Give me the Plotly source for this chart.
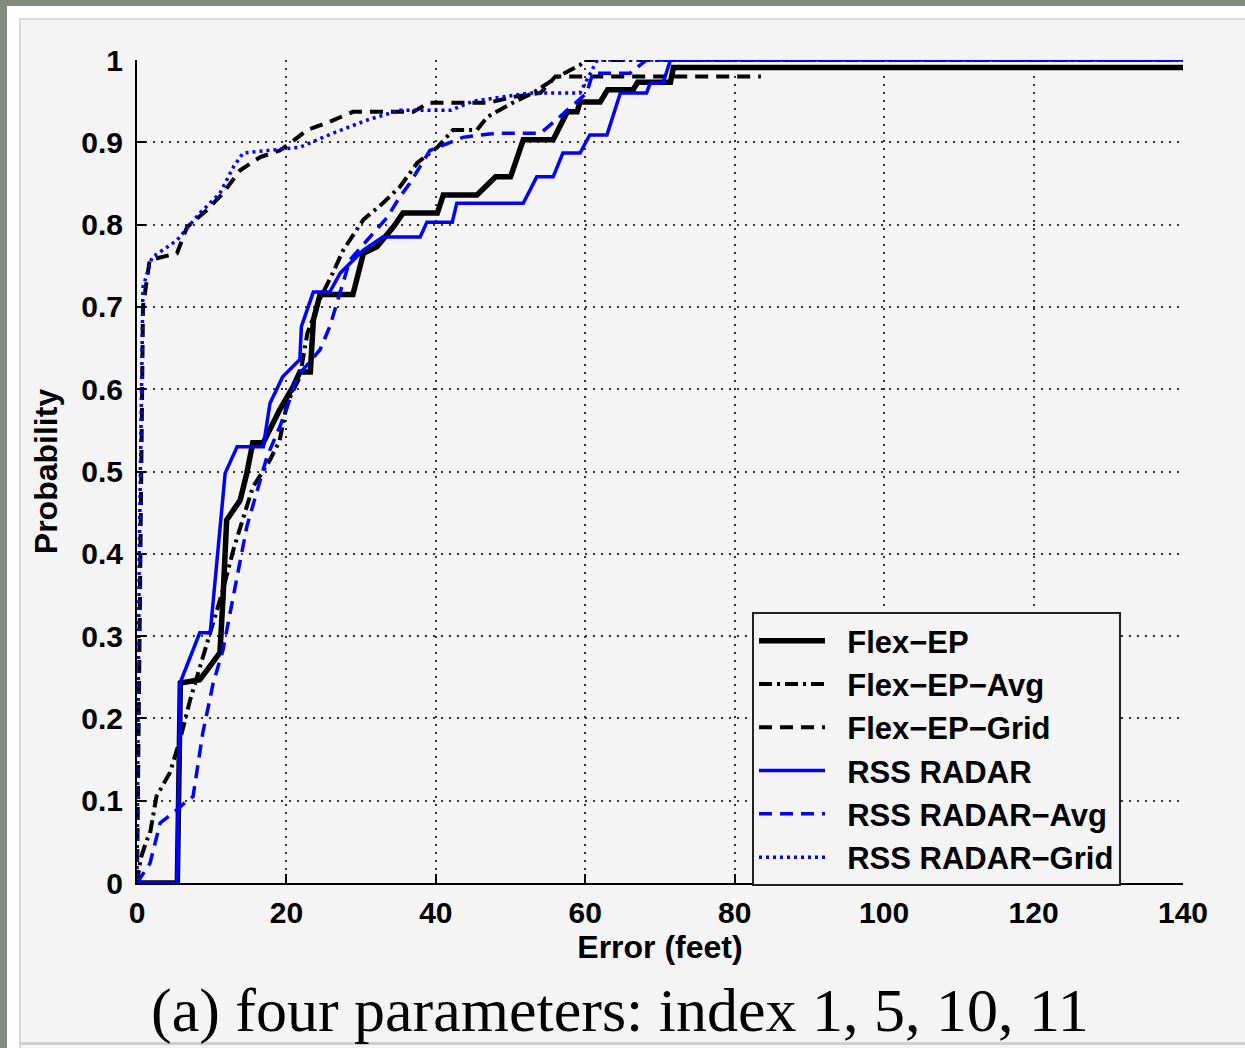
import plotly.graph_objects as go

# ---------------- data ----------------
flex_ep_x = [0, 5.4, 5.8, 8.4, 9.4, 10.7, 11.1, 11.5, 12, 13.8, 14.7, 15.5, 16.9, 19.1, 20.9, 21.8, 23.2, 23.6,
             24.5, 28.9, 30.3, 32.1, 34.3, 35.6, 40.2, 41, 45.5, 48, 50, 51.7, 55.7, 57.6, 58.9, 59.3, 62, 63,
             66.4, 67, 71.4, 71.8, 140]
flex_ep_y = [0, 0, 0.243, 0.247, 0.259, 0.277, 0.28, 0.344, 0.441, 0.465, 0.498, 0.535, 0.535, 0.575, 0.603,
             0.621, 0.621, 0.684, 0.715, 0.715, 0.765, 0.773, 0.797, 0.814, 0.814, 0.836, 0.836, 0.858, 0.858,
             0.903, 0.903, 0.937, 0.937, 0.949, 0.949, 0.964, 0.964, 0.973, 0.973, 0.991, 0.991]

flex_avg_x = [0, 0.5, 1.3, 1.74, 2.6, 4.4, 5.76, 6.7, 7.1, 9.0, 11.5, 12.9, 14.2, 15.5, 17.8, 19.1, 20.1, 21.8,
              22.8, 24.5, 26.2, 27.6, 30.3, 32.9, 35.2, 37.5, 40.2, 42.3, 45.5, 46.9, 50.3, 53, 56.2, 59.3, 60, 140]
flex_avg_y = [0, 0.03, 0.052, 0.06, 0.105, 0.134, 0.174, 0.21, 0.222, 0.28, 0.356, 0.405, 0.445, 0.481, 0.514,
              0.538, 0.583, 0.615, 0.668, 0.71, 0.741, 0.769, 0.806, 0.826, 0.846, 0.875, 0.894, 0.915, 0.915,
              0.931, 0.948, 0.96, 0.979, 0.994, 1.0, 1.0]

flex_grid_x = [0, 0.3, 0.8, 1.7, 5.35, 6.7, 9.4, 11.5, 13.8, 16.5, 19.1, 20.5, 22.8, 25.8, 28.9, 37, 39, 47,
               50.3, 54, 56, 83.5]
flex_grid_y = [0, 0.3, 0.7, 0.757, 0.765, 0.797, 0.818, 0.838, 0.866, 0.882, 0.89, 0.899, 0.915, 0.925, 0.937,
               0.937, 0.948, 0.948, 0.955, 0.96, 0.98, 0.98]

rss_x = [0, 5.35, 5.76, 8.4, 9.8, 10.2, 11.8, 13.4, 16.9, 17.8, 19.5, 21.8, 22, 23.6, 25.8, 27.2, 30.3, 32.9,
         37.9, 38.8, 42.2, 42.8, 51.7, 53.5, 55.7, 57, 59.3, 60.6, 62.9, 64.7, 68.2, 68.7, 70.4, 71.4, 140]
rss_y = [0, 0, 0.243, 0.304, 0.304, 0.344, 0.498, 0.53, 0.53, 0.583, 0.615, 0.636, 0.676, 0.718, 0.718, 0.741,
         0.769, 0.785, 0.785, 0.803, 0.803, 0.826, 0.826, 0.858, 0.858, 0.887, 0.887, 0.909, 0.909, 0.96, 0.96,
         0.972, 0.972, 1.0, 1.0]

rss_avg_x = [0, 1.74, 3.1, 5.35, 6.7, 7.5, 8.8, 10.2, 11.5, 12.9, 14.7, 16, 17.4, 19.1, 20.1, 21.4, 24.5, 25.8,
             27.2, 28.5, 30.8, 33.5, 35.2, 36.5, 39.2, 43.6, 48, 54, 56.6, 60.2, 61, 66, 68.2, 140]
rss_avg_y = [0, 0.024, 0.073, 0.089, 0.1, 0.105, 0.182, 0.243, 0.283, 0.35, 0.433, 0.474, 0.518, 0.554, 0.578,
             0.615, 0.648, 0.676, 0.717, 0.757, 0.781, 0.809, 0.834, 0.85, 0.89, 0.906, 0.911, 0.911, 0.931,
             0.96, 0.984, 0.984, 1.0, 1.0]

rss_grid_x = [0, 0.3, 0.8, 2, 5.35, 8.4, 11.1, 12.9, 14.2, 17.4, 21.8, 26.2, 30.8, 35.2, 42, 45, 52.6, 59.3,
              61.6, 140]
rss_grid_y = [0, 0.4, 0.724, 0.76, 0.781, 0.814, 0.838, 0.87, 0.887, 0.89, 0.894, 0.911, 0.927, 0.939, 0.939,
              0.95, 0.96, 0.96, 1.0, 1.0]

series_names = ["Flex\u2212EP", "Flex\u2212EP\u2212Avg", "Flex\u2212EP\u2212Grid",
                "RSS RADAR", "RSS RADAR\u2212Avg", "RSS RADAR\u2212Grid"]
x_ticks = [0, 20, 40, 60, 80, 100, 120, 140]
y_ticks = [0, 0.1, 0.2, 0.3, 0.4, 0.5, 0.6, 0.7, 0.8, 0.9, 1]
x_title = "Error (feet)"
y_title = "Probability"
caption = "(a) four parameters: index 1, 5, 10, 11"

# ---------------- figure ----------------
W, H = 1245, 1048
L, R, T, B = 137, 62, 60, 165
PW, PH = W - L - R, H - T - B

def px2paper_x(px):
    return (px - L) / PW

def px2paper_y(py):
    return (H - B - py) / PH

BLACK = "#000000"
BLUE = "#0000ff"
BG = "#f4f4f4"

styles = [
    dict(color=BLACK, width=5.5, dash="solid"),
    dict(color=BLACK, width=4, dash="13px,5px,3px,5px"),
    dict(color=BLACK, width=4, dash="13px,8px"),
    dict(color=BLUE, width=3.5, dash="solid"),
    dict(color=BLUE, width=3.5, dash="13px,8px"),
    dict(color=BLUE, width=3.5, dash="3px,4px"),
]
data = [(flex_ep_x, flex_ep_y), (flex_avg_x, flex_avg_y), (flex_grid_x, flex_grid_y),
        (rss_x, rss_y), (rss_avg_x, rss_avg_y), (rss_grid_x, rss_grid_y)]

NB = "\u00a0\u00a0"
fig = go.Figure()
for (xs, ys), name, st in zip(data, series_names, styles):
    fig.add_trace(go.Scatter(x=xs, y=ys, mode="lines", name=NB + name, line=st, cliponaxis=True))

tick_font = dict(family="Liberation Sans, Arial, sans-serif", size=30, color="black", weight="bold")
title_font = dict(family="Liberation Sans, Arial, sans-serif", size=32, color="black", weight="bold")

fig.update_layout(
    width=W, height=H,
    margin=dict(l=L, r=R, t=T, b=B, pad=0),
    paper_bgcolor=BG, plot_bgcolor=BG,
    showlegend=True,
    legend=dict(
        x=px2paper_x(752), y=px2paper_y(612), xanchor="left", yanchor="top",
        bgcolor=BG, bordercolor="#222", borderwidth=2,
        font=dict(family="Liberation Sans, Arial, sans-serif", size=31, color="black", weight="bold"),
        itemwidth=66, tracegroupgap=0, traceorder="normal",
    ),
    xaxis=dict(
        range=[0, 140], tickvals=x_ticks, ticktext=[str(v) for v in x_ticks],
        showline=True, linecolor="black", linewidth=2, mirror=False,
        ticks="inside", ticklen=9, tickwidth=1.5, tickcolor="black",
        showgrid=True, gridcolor="#333", gridwidth=2, griddash="2px,6px",
        zeroline=False, tickfont=tick_font, ticklabelstandoff=2,
        title=dict(text=x_title, font=title_font, standoff=0),
    ),
    yaxis=dict(
        range=[0, 1], tickvals=y_ticks, ticktext=[("%g" % v) for v in y_ticks],
        showline=True, linecolor="black", linewidth=2, mirror=False,
        ticks="inside", ticklen=9, tickwidth=1.5, tickcolor="black",
        showgrid=True, gridcolor="#333", gridwidth=2, griddash="2px,6px",
        zeroline=False, tickfont=tick_font, ticklabelstandoff=6,
        title=dict(text=y_title, font=title_font, standoff=14),
    ),
)

# frame decoration of the scanned figure
frame_shapes = [
    dict(x0=0, x1=7, y0=0, y1=H, color="#858a7e"),
    dict(x0=0, x1=W, y0=0, y1=6, color="#858a7e"),
    dict(x0=7, x1=19, y0=6, y1=H, color="#ffffff"),
    dict(x0=7, x1=W, y0=6, y1=18, color="#ffffff"),
    dict(x0=19, x1=21, y0=18, y1=H, color="#d9d9d9"),
    dict(x0=19, x1=W, y0=18, y1=20, color="#d9d9d9"),
    dict(x0=19, x1=W, y0=1042, y1=1045, color="#d0d0d0"),
]
for s in frame_shapes:
    fig.add_shape(type="rect", xref="paper", yref="paper",
                  x0=px2paper_x(s["x0"]), x1=px2paper_x(s["x1"]),
                  y0=px2paper_y(s["y1"]), y1=px2paper_y(s["y0"]),
                  fillcolor=s["color"], line=dict(width=0), layer="below")

fig.add_annotation(
    text=caption, xref="paper", yref="paper",
    x=px2paper_x(620), y=px2paper_y(1047), xanchor="center", yanchor="bottom",
    showarrow=False,
    font=dict(family="Liberation Serif, Times New Roman, serif", size=62, color="black"),
)

fig.write_html(
    "out.html",
    config={"displayModeBar": False},
    post_script="document.body.style.margin='0';document.body.style.padding='0';"
                "document.body.style.overflow='hidden';",
)
